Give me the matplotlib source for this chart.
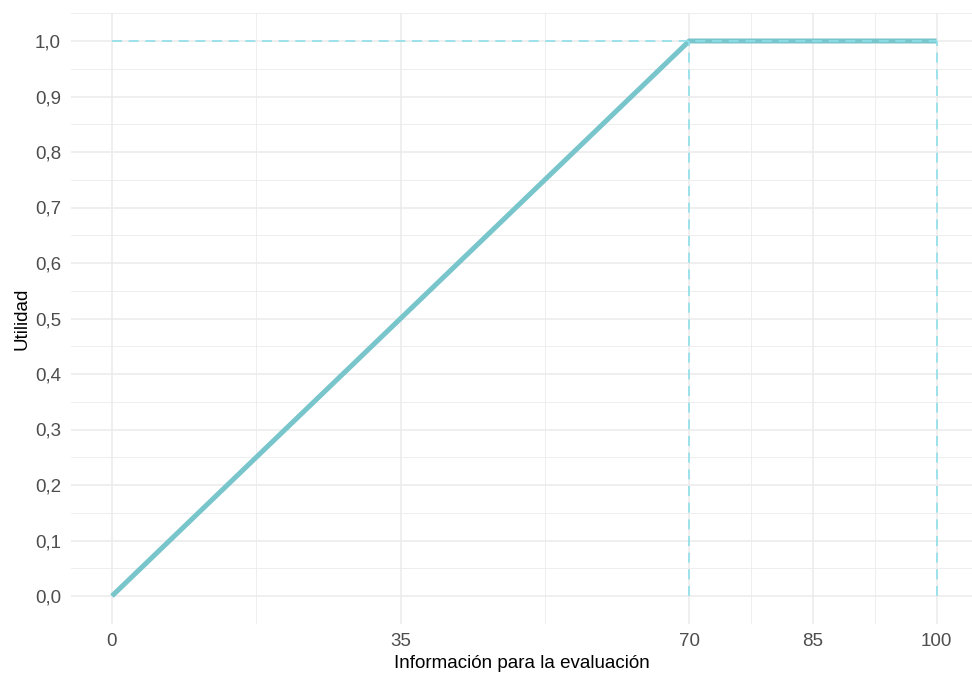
import numpy as np
import matplotlib
matplotlib.use("Agg")
import matplotlib.pyplot as plt
from matplotlib.ticker import FixedLocator, FuncFormatter

plt.rcParams['font.family'] = ['Liberation Sans', 'DejaVu Sans']

# data
info_x = [0, 70, 100]
utilidad = [0.0, 1.0, 1.0]
x_ticks = [0, 35, 70, 85, 100]
x_minor = [17.5, 52.5, 77.5, 92.5]
y_ticks = [0.0, 0.1, 0.2, 0.3, 0.4, 0.5, 0.6, 0.7, 0.8, 0.9, 1.0]

line_col = '#78C5CC'
dash_col = '#8FDFE9'
grid_col = '#EBEBEB'

fig = plt.figure(figsize=(9.72, 6.81), dpi=100)
# x: 0 -> 112px, 100 -> 937px ; y: 0 -> 596px, 1 -> 41px
ax = fig.add_axes([70.75 / 972, (681 - 623.75) / 681, (972 - 70.75) / 972, (623.75 - 13.25) / 681])
ax.set_xlim(-5, 104.3)
ax.set_ylim(-0.05, 1.05)

# grid
for v in x_ticks:
    ax.axvline(v, color=grid_col, lw=1.1, zorder=0)
for v in x_minor:
    ax.axvline(v, color=grid_col, lw=0.6, zorder=0)
for v in y_ticks:
    ax.axhline(v, color=grid_col, lw=1.1, zorder=0)
for v in np.arange(-0.05, 1.06, 0.1):
    ax.axhline(v, color=grid_col, lw=0.6, zorder=0)

# reference lines
ax.plot([0, 100], [1, 1], color=dash_col, lw=1.2, dashes=(6, 4), zorder=3)
ax.plot([70, 70], [0, 1], color=dash_col, lw=1.2, dashes=(6, 4), zorder=3)
ax.plot([100, 100], [0, 1], color=dash_col, lw=1.2, dashes=(6, 4), zorder=3)

ax.plot(info_x, utilidad, color=line_col, lw=3.6, solid_capstyle='butt', zorder=2)

ax.xaxis.set_major_locator(FixedLocator(x_ticks))
ax.yaxis.set_major_locator(FixedLocator(y_ticks))
ax.yaxis.set_major_formatter(FuncFormatter(lambda v, p: f"{v:.1f}".replace('.', ',')))
ax.tick_params(length=0, labelsize=13.5, colors='#4D4D4D')
ax.tick_params(axis='x', pad=7)
ax.tick_params(axis='y', pad=7)
for s in ax.spines.values():
    s.set_visible(False)

ax.set_xlabel('Información para la evaluación', fontsize=13.5, color='black', labelpad=3)
ax.set_ylabel('Utilidad', fontsize=13.5, color='black', labelpad=3)

fig.savefig('out.png', dpi=100)
